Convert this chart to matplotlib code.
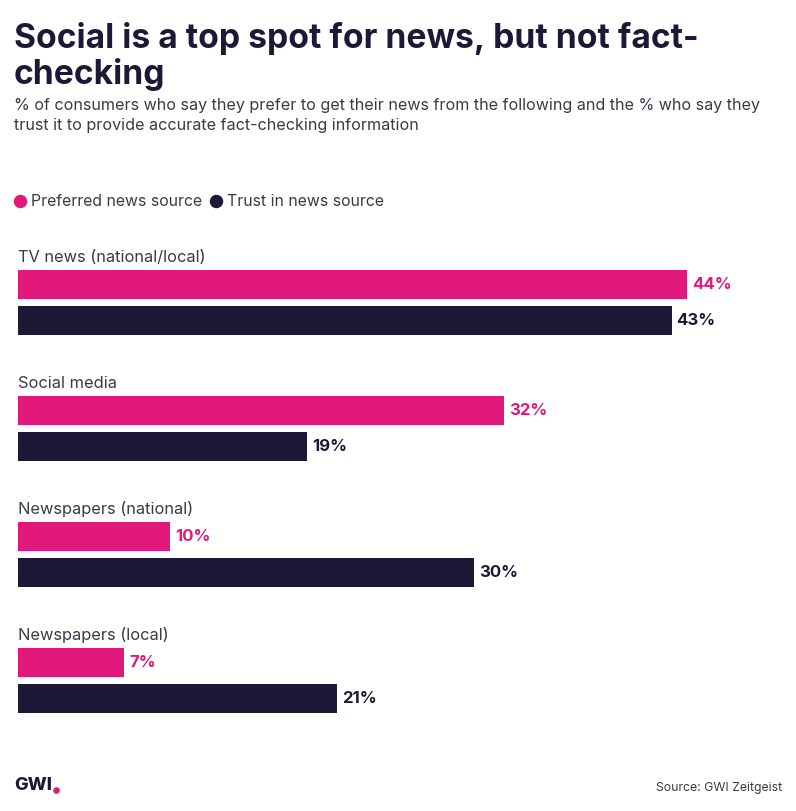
import matplotlib
matplotlib.use("Agg")
import matplotlib.pyplot as plt

categories = ["TV news (national/local)", "Social media", "Newspapers (national)", "Newspapers (local)"]
preferred = [44, 32, 10, 7]
trust = [43, 19, 30, 21]
series_names = ["Preferred news source", "Trust in news source"]

PINK = "#E0197A"
NAVY = "#1C1836"
GREY = "#3A3A48"

W, H = 796, 811
fig = plt.figure(figsize=(W / 100, H / 100), dpi=100)
ax = fig.add_axes([0, 0, 1, 1])
px_per_pct = 15.2
x0 = 18
ax.set_xlim(-x0 / px_per_pct, (W - x0) / px_per_pct)
ax.set_ylim(H, 0)
ax.axis("off")

font = "Inter"

def ftext(x, y, s, **kw):
    fig.text(x / W, 1 - y / H, s, **kw)

ftext(14, 48, "Social is a top spot for news, but not fact-", fontsize=24.2, fontweight="bold",
      color=NAVY, family=font, va="baseline")
ftext(14, 84, "checking", fontsize=24.2, fontweight="bold", color=NAVY, family=font, va="baseline")
ftext(14, 110, "% of consumers who say they prefer to get their news from the following and the % who say they",
      fontsize=11.6, color=GREY, family=font, va="baseline")
ftext(14, 130, "trust it to provide accurate fact-checking information",
      fontsize=11.6, color=GREY, family=font, va="baseline")

# legend
ax.scatter([(20 - x0) / px_per_pct], [201], s=75, color=PINK)
ftext(31, 201, series_names[0], fontsize=11.4, color=GREY, family=font, va="center")
ax.scatter([(216 - x0) / px_per_pct], [201], s=75, color=NAVY)
ftext(227, 201, series_names[1], fontsize=11.4, color=GREY, family=font, va="center")

bar_h = 29
for i, cat in enumerate(categories):
    top = 270 + i * 126
    yp = top + bar_h / 2
    yt = top + 36 + bar_h / 2
    ftext(18, top - 13, cat, fontsize=11.8, color=GREY, family=font, va="center")
    ax.barh(yp, preferred[i], height=bar_h, left=0, color=PINK)
    ax.barh(yt, trust[i], height=bar_h, left=0, color=NAVY)
    ax.text(preferred[i] + 5 / px_per_pct, yp, f"{preferred[i]}%", fontsize=12, fontweight="bold",
            color=PINK, family=font, va="center")
    ax.text(trust[i] + 5 / px_per_pct, yt, f"{trust[i]}%", fontsize=12, fontweight="bold",
            color=NAVY, family=font, va="center")

ftext(14, 786, "GWI", fontsize=13, fontweight="heavy", color=NAVY, family=font, va="center")
ax.scatter([(56 - x0) / px_per_pct], [790], s=14, color=PINK)
ftext(782, 788, "Source: GWI Zeitgeist", fontsize=8.8, color=GREY, family=font, va="center", ha="right")

fig.savefig("out.png", dpi=100)
